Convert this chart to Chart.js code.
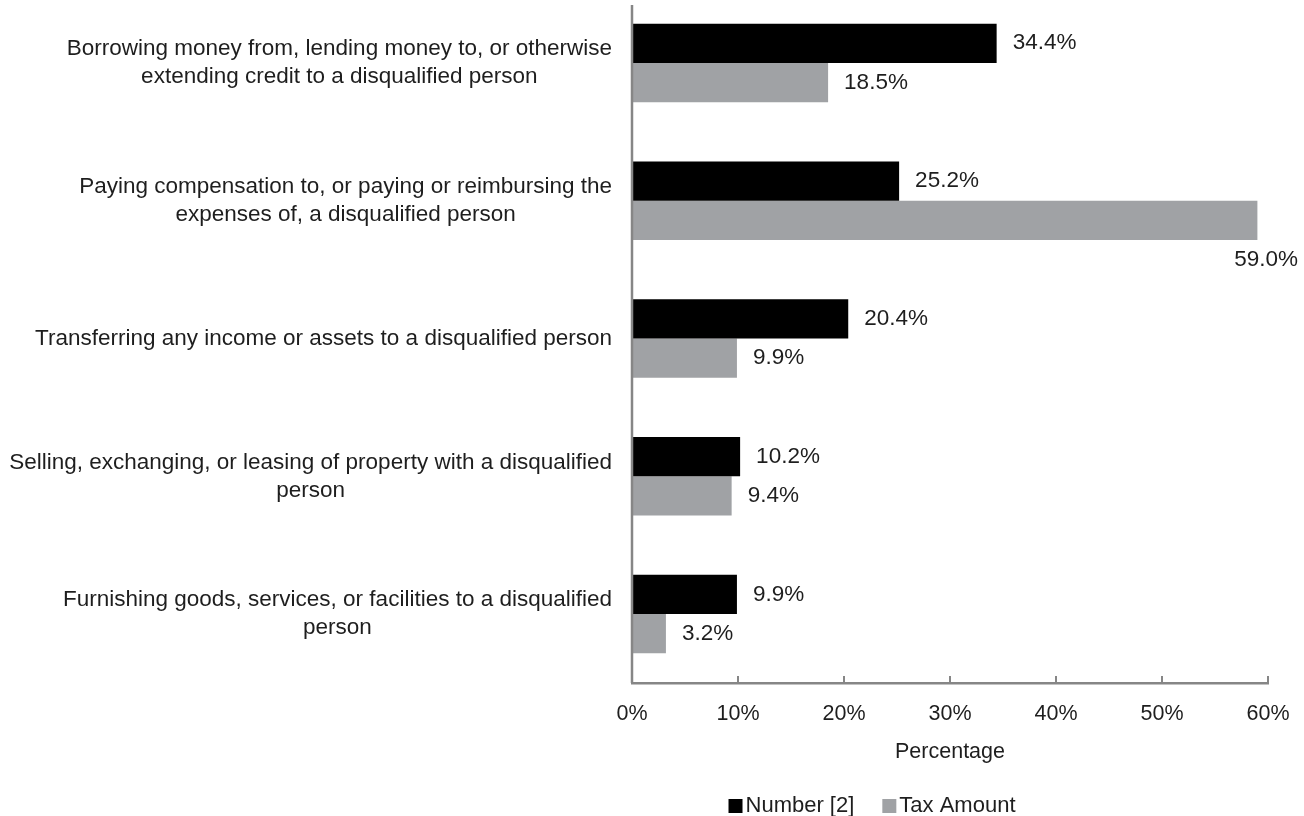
<!DOCTYPE html>
<html>
<head>
<meta charset="utf-8">
<script src="https://cdn.jsdelivr.net/npm/chart.js@4.4.1/dist/chart.umd.min.js"></script>
<style>
  html, body { margin: 0; padding: 0; background: #ffffff; overflow: hidden; }
  #wrap { position: relative; width: 1304px; height: 816px; overflow: hidden; }
  /* the plot area runs slightly past the top edge */
  #inner { position: absolute; left: 0; top: -6px; width: 1304px; height: 822px; }
</style>
</head>
<body>
<div id="wrap"><div id="inner"><canvas id="chart"></canvas></div></div>
<script>
// Self-dealing act categories (each entry is the list of lines for its label)
const categories = [
  ["Borrowing money from, lending money to, or otherwise", "extending credit to a disqualified person"],
  ["Paying compensation to, or paying or reimbursing the", "expenses of, a disqualified person"],
  ["Transferring any income or assets to a disqualified person"],
  ["Selling, exchanging, or leasing of property with a disqualified", "person"],
  ["Furnishing goods, services, or facilities to a disqualified", "person"]
];

// Percentage of total, by series
const numberPct    = [34.4, 25.2, 20.4, 10.2, 9.9];
const taxAmountPct = [18.5, 59.0, 9.9, 9.4, 3.2];

const seriesNames = ["Number [2]", "Tax Amount"];
const xTickValues = [0, 10, 20, 30, 40, 50, 60];
const xTitle = "Percentage";

const FONT_FAMILY = "'Liberation Sans', Arial, sans-serif";
const LABEL_FONT = "22.5px " + FONT_FAMILY;
const LEGEND_FONT = "22px " + FONT_FAMILY;
const TICK_SIZE = 21.5;
const TEXT = "#1e1e1e";
const AXIS = "#868686";
const BLACK = "#000000";
const GRAY = "#a0a2a5";

// Category labels: block right-aligned next to the axis, lines centred in the block
const categoryLabels = {
  id: "categoryLabels",
  afterDraw(chart) {
    const { ctx, chartArea } = chart;
    const yScale = chart.scales.y;
    const lineH = 28;
    const right = chartArea.left - 20;
    ctx.save();
    ctx.font = LABEL_FONT;
    ctx.fillStyle = TEXT;
    ctx.textAlign = "center";
    ctx.textBaseline = "middle";
    categories.forEach((lines, i) => {
      const cy = yScale.getPixelForValue(i);
      const blockW = Math.max(...lines.map(l => ctx.measureText(l).width));
      const cx = right - blockW / 2;
      const y0 = cy - (lines.length - 1) * lineH / 2;
      lines.forEach((l, k) => ctx.fillText(l, cx, y0 + k * lineH));
    });
    ctx.restore();
  }
};

// Value labels at the end of each bar
const barValues = {
  id: "barValues",
  afterDatasetsDraw(chart) {
    const ctx = chart.ctx;
    ctx.save();
    ctx.font = LABEL_FONT;
    ctx.fillStyle = TEXT;
    ctx.textAlign = "left";
    ctx.textBaseline = "middle";
    chart.data.datasets.forEach((ds, di) => {
      chart.getDatasetMeta(di).data.forEach((bar, i) => {
        const { x, y, height } = bar.getProps(["x", "y", "height"], true);
        const txt = ds.data[i].toFixed(1) + "%";
        const w = ctx.measureText(txt).width;
        let tx = x + 16, ty = y;
        if (tx + w > chart.width - 4) {
          // not enough room to the right: drop below the bar
          tx = chart.width - 6 - w;
          ty = y + height;
        }
        ctx.fillText(txt, tx, ty);
      });
    });
    ctx.restore();
  }
};

// Category axis line and inward tick marks on the value axis
const axisMarks = {
  id: "axisMarks",
  afterDraw(chart) {
    const { ctx, chartArea } = chart;
    const xScale = chart.scales.x;
    ctx.save();
    ctx.strokeStyle = AXIS;
    ctx.lineWidth = 2.5;
    const x0 = xScale.getPixelForValue(0);
    ctx.beginPath();
    ctx.moveTo(x0, chartArea.top + 11);
    ctx.lineTo(x0, chartArea.bottom);
    ctx.stroke();
    ctx.lineWidth = 2;
    xScale.ticks.forEach((t, i) => {
      const px = Math.round(xScale.getPixelForTick(i));
      ctx.beginPath();
      ctx.moveTo(px, chartArea.bottom);
      ctx.lineTo(px, chartArea.bottom - 7);
      ctx.stroke();
    });
    ctx.restore();
  }
};

// Compact legend under the axis title
const compactLegend = {
  id: "compactLegend",
  afterDraw(chart) {
    const ctx = chart.ctx;
    const box = 14, gap = 3, spacing = 28;
    const cx = 872, cy = chart.height - 10;
    ctx.save();
    ctx.font = LEGEND_FONT;
    ctx.textBaseline = "middle";
    ctx.textAlign = "left";
    const items = chart.data.datasets.map(ds => ({
      text: ds.label, color: ds.backgroundColor, w: ctx.measureText(ds.label).width
    }));
    const total = items.reduce((s, it) => s + box + gap + it.w, 0) + spacing * (items.length - 1);
    let x = cx - total / 2;
    items.forEach(it => {
      ctx.fillStyle = it.color;
      ctx.fillRect(x, cy - box / 2, box, box);
      x += box + gap;
      ctx.fillStyle = TEXT;
      ctx.fillText(it.text, x, cy);
      x += it.w + spacing;
    });
    ctx.restore();
  }
};

new Chart(document.getElementById("chart"), {
  type: "bar",
  data: {
    labels: categories.map(l => l.join(" ")),
    datasets: [
      { label: seriesNames[0], data: numberPct, backgroundColor: BLACK },
      { label: seriesNames[1], data: taxAmountPct, backgroundColor: GRAY }
    ]
  },
  plugins: [categoryLabels, barValues, axisMarks, compactLegend],
  options: {
    indexAxis: "y",
    responsive: true,
    maintainAspectRatio: false,
    animation: false,
    categoryPercentage: 0.57,
    barPercentage: 1.0,
    layout: { padding: { top: 0, right: 36, bottom: 43, left: 0 } },
    plugins: {
      legend: { display: false },
      tooltip: { enabled: false }
    },
    scales: {
      x: {
        type: "linear",
        min: 0,
        max: 60,
        afterBuildTicks(scale) { scale.ticks = xTickValues.map(v => ({ value: v })); },
        afterFit(scale) {
          scale.height = 90;
          // edge labels fit inside the outer padding
          scale.paddingLeft = 0;
          scale.paddingRight = 0;
        },
        grid: { display: true, drawOnChartArea: false, drawTicks: false },
        border: { display: true, color: AXIS, width: 2.5 },
        ticks: {
          padding: 18,
          color: TEXT,
          font: { family: FONT_FAMILY, size: TICK_SIZE },
          callback: v => v + "%"
        },
        title: {
          display: true,
          text: xTitle,
          color: TEXT,
          font: { family: FONT_FAMILY, size: TICK_SIZE },
          padding: { top: 0, bottom: 8 }
        }
      },
      y: {
        type: "category",
        afterFit(scale) { scale.width = 632; },
        grid: { display: false },
        border: { display: false },
        ticks: { display: false }
      }
    }
  }
});
</script>
</body>
</html>
